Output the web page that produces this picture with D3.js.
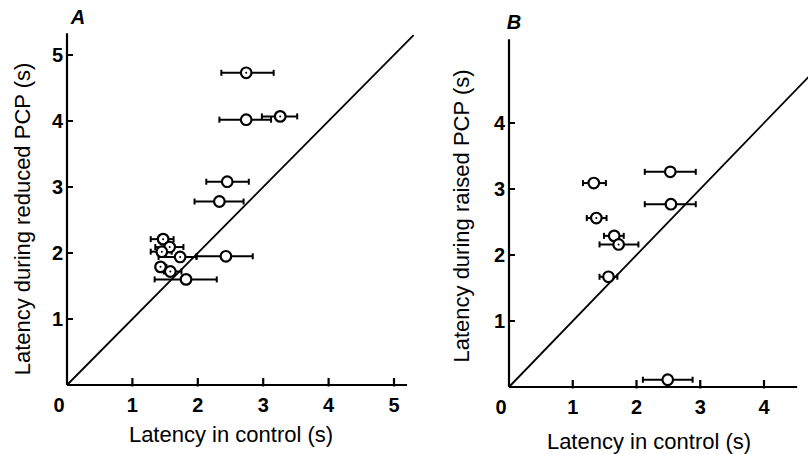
<!DOCTYPE html>
<html><head><meta charset="utf-8">
<script src="https://cdn.jsdelivr.net/npm/d3@7"></script>
<style>body{margin:0;background:#fff}svg{display:block}text{font-family:"Liberation Sans",Arial,sans-serif;fill:#000}</style>
</head><body><svg id="c" width="808" height="454"></svg>
<script>
// Panel A data (control latency x, reduced-PCP latency y, control error range)
const aX  = [2.74, 2.74, 3.26, 2.45, 2.33, 1.47, 1.57, 1.45, 1.73, 2.43, 1.43, 1.58, 1.82];
const aY  = [4.73, 4.02, 4.07, 3.08, 2.78, 2.21, 2.09, 2.02, 1.94, 1.95, 1.79, 1.72, 1.60];
const aLo = [2.36, 2.33, 2.98, 2.13, 1.95, 1.28, 1.35, 1.28, 1.40, 1.98, 1.36, 1.48, 1.34];
const aHi = [3.16, 3.12, 3.52, 2.78, 2.70, 1.63, 1.78, 1.60, 1.98, 2.84, 1.52, 1.75, 2.29];
const aDot = [1, 0, 1, 0, 0, 1, 1, 1, 1, 0, 1, 1, 0];
// Panel B data (control latency x, raised-PCP latency y)
const bX  = [2.53, 1.33, 2.54, 1.37, 1.65, 1.72, 1.56, 2.49];
const bY  = [3.26, 3.09, 2.77, 2.56, 2.29, 2.16, 1.67, 0.11];
const bLo = [2.13, 1.16, 2.13, 1.22, 1.49, 1.42, 1.42, 2.10];
const bHi = [2.93, 1.52, 2.93, 1.53, 1.80, 2.03, 1.70, 2.88];
const bDot = [0, 0, 0, 1, 0, 1, 0, 0];
// Ticks
const aXTicks = [0, 1, 2, 3, 4, 5];
const aYTicks = [1, 2, 3, 4, 5];
const bXTicks = [0, 1, 2, 3, 4];
const bYTicks = [1, 2, 3, 4];

const svg = d3.select("#c");

function panel(cfg){
  const g = svg.append("g");
  const x = d3.scaleLinear().domain([0, cfg.xTickMax]).range(cfg.xr);
  const y = d3.scaleLinear().domain([0, cfg.yTickMax]).range(cfg.yr);
  g.append("line").attr("x1", x(0)).attr("x2", x(cfg.xEnd)).attr("y1", y(0)).attr("y2", y(0))
    .attr("stroke", "#000").attr("stroke-width", 2.2);
  g.append("line").attr("x1", x(0)).attr("x2", x(0)).attr("y1", y(0)).attr("y2", y(cfg.yEnd))
    .attr("stroke", "#000").attr("stroke-width", 2.2);
  cfg.xTicks.filter(d => d > 0).forEach(d => {
    g.append("line").attr("x1", x(d)).attr("x2", x(d)).attr("y1", y(0) + 1.5).attr("y2", y(0) - 7)
      .attr("stroke", "#000").attr("stroke-width", 2.2);
  });
  cfg.xTicks.forEach(d => {
    g.append("text").attr("x", x(d) - (d === 0 ? 8 : 0)).attr("y", y(0) + 27)
      .attr("text-anchor", "middle").attr("font-size", 20).attr("font-weight", "bold").text(d);
  });
  cfg.yTicks.forEach(d => {
    g.append("line").attr("x1", x(0)).attr("x2", x(0) + 6).attr("y1", y(d)).attr("y2", y(d))
      .attr("stroke", "#000").attr("stroke-width", 2);
    g.append("text").attr("x", x(0) - 4).attr("y", y(d) + 7)
      .attr("text-anchor", "end").attr("font-size", 20).attr("font-weight", "bold").text(d);
  });
  g.append("line").attr("x1", x(0)).attr("y1", y(0)).attr("x2", x(cfg.diagEnd)).attr("y2", y(cfg.diagEnd))
    .attr("stroke", "#000").attr("stroke-width", 1.8);
  cfg.xs.forEach((v, i) => {
    const yy = y(cfg.ys[i]);
    g.append("line").attr("x1", x(cfg.lo[i])).attr("x2", x(cfg.hi[i])).attr("y1", yy).attr("y2", yy)
      .attr("stroke", "#000").attr("stroke-width", 2);
    [cfg.lo[i], cfg.hi[i]].forEach(e => {
      g.append("line").attr("x1", x(e)).attr("x2", x(e)).attr("y1", yy - 3).attr("y2", yy + 3)
        .attr("stroke", "#000").attr("stroke-width", 2);
    });
  });
  cfg.xs.forEach((v, i) => {
    g.append("circle").attr("cx", x(v)).attr("cy", y(cfg.ys[i])).attr("r", 5.3)
      .attr("fill", "#fff").attr("stroke", "#000").attr("stroke-width", 2.2);
    if (cfg.dot[i]) g.append("circle").attr("cx", x(v)).attr("cy", y(cfg.ys[i])).attr("r", 1).attr("fill", "#000");
  });
  g.append("text").attr("x", cfg.letterPos[0]).attr("y", cfg.letterPos[1]).attr("font-size", 20)
    .attr("font-style", "italic").attr("font-weight", "bold").attr("text-anchor", "middle").text(cfg.letter);
  g.append("text").attr("x", cfg.xTitlePos[0]).attr("y", cfg.xTitlePos[1]).attr("font-size", 22)
    .attr("text-anchor", "middle").text(cfg.xTitle);
  g.append("text").attr("transform", `translate(${cfg.yTitlePos[0]},${cfg.yTitlePos[1]}) rotate(-90)`)
    .attr("font-size", 22).attr("text-anchor", "middle").text(cfg.yTitle);
}

panel({
  xs: aX, ys: aY, lo: aLo, hi: aHi, dot: aDot,
  xTicks: aXTicks, yTicks: aYTicks, xTickMax: 5, yTickMax: 5,
  xr: [67, 394], yr: [385, 55], xEnd: 5.2, yEnd: 5.33, diagEnd: 5.3,
  letter: "A", letterPos: [78, 24],
  xTitle: "Latency in control (s)", xTitlePos: [231, 442],
  yTitle: "Latency during reduced PCP (s)", yTitlePos: [30, 219]
});
panel({
  xs: bX, ys: bY, lo: bLo, hi: bHi, dot: bDot,
  xTicks: bXTicks, yTicks: bYTicks, xTickMax: 4, yTickMax: 4,
  xr: [509, 764], yr: [387, 123], xEnd: 4.52, yEnd: 5.27, diagEnd: 4.8,
  letter: "B", letterPos: [514, 29],
  xTitle: "Latency in control (s)", xTitlePos: [649, 449],
  yTitle: "Latency during raised PCP (s)", yTitlePos: [469, 216]
});
</script>
</body></html>
